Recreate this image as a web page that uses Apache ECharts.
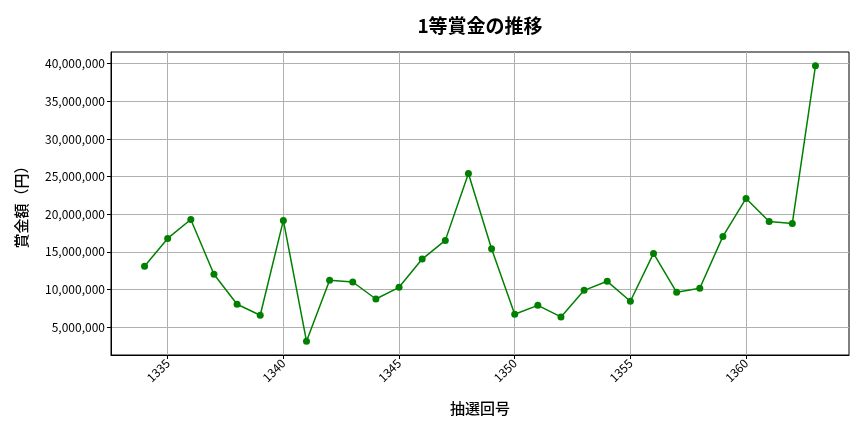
<!DOCTYPE html>
<html>
<head>
<meta charset="utf-8">
<script src="https://cdn.jsdelivr.net/npm/echarts@6/dist/echarts.min.js"></script>
<style>html,body{margin:0;padding:0;background:#fff}#c{width:864px;height:432px}</style>
</head>
<body>
<div id="c"></div>
<script>
const draws = [1334,1335,1336,1337,1338,1339,1340,1341,1342,1343,1344,1345,1346,1347,1348,1349,1350,1351,1352,1353,1354,1355,1356,1357,1358,1359,1360,1361,1362,1363];
const prizes = [13080000,16790000,19310000,12020000,8040000,6580000,19180000,3130000,11220000,11000000,8740000,10290000,14050000,16530000,25410000,15420000,6710000,7900000,6360000,9890000,11090000,8440000,14800000,9630000,10160000,17060000,22100000,19050000,18780000,39730000];
const xTicks = [1335,1340,1345,1350,1355,1360];
const yTicks = [5000000,10000000,15000000,20000000,25000000,30000000,35000000,40000000];

const font = '"Noto Sans CJK JP", "Noto Sans", sans-serif';
const xMin = 1332.55, xMax = 1364.45;
const yLo = Math.min(...prizes), yHi = Math.max(...prizes);
const yPad = (yHi - yLo) * 0.05;

const chart = echarts.init(document.getElementById('c'), null, {renderer: 'canvas'});
chart.setOption({
  animation: false,
  backgroundColor: '#fff',
  title: {
    text: '1等賞金の推移',
    left: 475, top: 11, textAlign: 'center',
    textStyle: {fontFamily: font, fontSize: 19, fontWeight: 'bold', color: '#000'}
  },
  grid: {left: 111, right: 15, top: 52, bottom: 77, show: true, borderColor: '#000', borderWidth: 1, backgroundColor: 'transparent'},
  xAxis: {
    type: 'value', min: xMin, max: xMax,
    name: '抽選回号', nameLocation: 'middle', nameGap: 46,
    nameTextStyle: {fontFamily: font, fontSize: 15, fontWeight: 500, color: '#000'},
    axisLine: {show: true, lineStyle: {color: '#000'}},
    axisTick: {show: true, length: 4, customValues: xTicks, lineStyle: {color: '#000'}},
    axisLabel: {customValues: xTicks, rotate: 45, margin: 6, fontFamily: font, fontSize: 12, color: '#000',
      formatter: v => String(Math.round(v))},
    splitLine: {show: true, lineStyle: {color: '#b0b0b0', width: 1}}
  },
  yAxis: {
    type: 'value', min: yLo - yPad, max: yHi + yPad,
    name: '賞金額（円）', nameLocation: 'middle', nameGap: 82, nameRotate: 90,
    nameTextStyle: {fontFamily: font, fontSize: 15, fontWeight: 500, color: '#000'},
    axisLine: {show: true, lineStyle: {color: '#000'}},
    axisTick: {show: true, length: 4, customValues: yTicks, lineStyle: {color: '#000'}},
    axisLabel: {customValues: yTicks, margin: 6, fontFamily: font, fontSize: 12, color: '#000',
      formatter: v => Math.round(v).toLocaleString('en-US')},
    splitLine: {show: true, lineStyle: {color: '#b0b0b0', width: 1}}
  },
  series: [{
    type: 'line',
    data: draws.map((d, i) => [d, prizes[i]]),
    symbol: 'circle', symbolSize: 7,
    itemStyle: {color: '#008000'},
    lineStyle: {color: '#008000', width: 1.5}
  }]
});
</script>
</body>
</html>
